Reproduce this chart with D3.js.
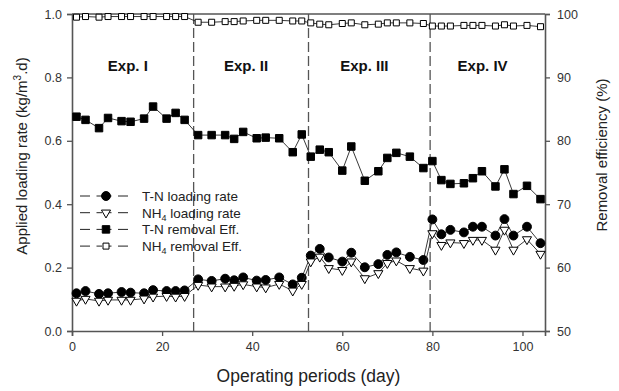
<!DOCTYPE html>
<html>
<head>
<meta charset="utf-8">
<script src="https://cdn.jsdelivr.net/npm/d3@7"></script>
<style>
body { margin: 0; background: #fff; }
text { font-family: "Liberation Sans", Arial, sans-serif; }
</style>
</head>
<body>
<div id="chart"></div>
<script>
// sampling days (same for every series)
var days = [1, 3, 6, 8, 11, 13, 16, 18, 21, 23, 25,
    28, 31, 34, 36, 38, 41, 43, 46, 49, 51,
    53, 55, 57, 60, 62, 65, 68, 70, 72, 75, 78,
    80, 82, 84, 87, 89, 91, 94, 96, 98, 101, 104];

// loading rates (kg/m3.d), left axis
var tnLoading = [0.119, 0.126, 0.117, 0.119, 0.123, 0.121, 0.119, 0.129, 0.126, 0.126, 0.128,
    0.163, 0.158, 0.165, 0.160, 0.169, 0.159, 0.161, 0.169, 0.147, 0.168,
    0.238, 0.259, 0.232, 0.219, 0.247, 0.201, 0.211, 0.240, 0.248, 0.234, 0.224,
    0.352, 0.305, 0.319, 0.311, 0.329, 0.329, 0.301, 0.353, 0.301, 0.329, 0.277];
var nh4Loading = [0.095, 0.101, 0.095, 0.098, 0.098, 0.098, 0.102, 0.108, 0.110, 0.108, 0.110,
    0.145, 0.140, 0.140, 0.142, 0.147, 0.140, 0.137, 0.148, 0.127, 0.148,
    0.219, 0.234, 0.198, 0.192, 0.219, 0.166, 0.182, 0.214, 0.222, 0.198, 0.190,
    0.308, 0.271, 0.279, 0.277, 0.287, 0.287, 0.256, 0.319, 0.256, 0.289, 0.243];

// removal efficiencies (%), right axis
var tnRemoval = [83.8, 83.3, 82.0, 83.6, 83.1, 83.0, 83.5, 85.4, 83.5, 84.4, 83.3,
    80.9, 80.9, 80.9, 80.3, 81.4, 80.4, 80.5, 80.4, 78.2, 81.0,
    77.5, 78.6, 78.2, 75.3, 79.1, 73.7, 75.2, 77.3, 78.1, 77.5, 75.7,
    76.8, 73.8, 73.2, 73.3, 74.1, 75.2, 72.8, 75.5, 71.6, 72.9, 70.8];
var nh4Removal = [99.5, 99.6, 99.5, 99.6, 99.6, 99.6, 99.6, 99.6, 99.6, 99.6, 99.6,
    98.7, 98.7, 98.8, 98.8, 98.9, 99.0, 99.0, 99.0, 98.9, 98.9,
    98.6, 98.4, 98.3, 98.5, 98.6, 98.3, 98.4, 98.6, 98.6, 98.6, 98.5,
    98.1, 98.1, 98.1, 98.2, 98.2, 98.2, 98.1, 98.3, 98.1, 98.2, 98.0];

// experiment phases
var phaseBounds = [27, 52.5, 79.5];
var phaseLabels = ['Exp. I', 'Exp. II', 'Exp. III', 'Exp. IV'];

var xTicks = [0, 20, 40, 60, 80, 100];
var leftTicks = [0, 0.2, 0.4, 0.6, 0.8, 1.0];
var rightTicks = [50, 60, 70, 80, 90, 100];

var width = 619, height = 391;
var margin = {top: 14, right: 74, bottom: 60, left: 72};

var svg = d3.select('#chart')
    .append('svg')
    .attr('width', width)
    .attr('height', height);

var x = d3.scaleLinear().domain([0, 105]).range([margin.left, width - margin.right]);
var yLeft = d3.scaleLinear().domain([0, 1]).range([height - margin.bottom, margin.top]);
var yRight = d3.scaleLinear().domain([50, 100]).range([height - margin.bottom, margin.top]);

var axisColor = '#555';

//Phase separators
svg.selectAll('.phase')
    .data(phaseBounds)
    .enter()
    .append('line')
    .attr('x1', function(d){ return x(d); })
    .attr('x2', function(d){ return x(d); })
    .attr('y1', yLeft(1))
    .attr('y2', yLeft(0))
    .style('stroke', '#555')
    .style('stroke-width', 1.3)
    .style('stroke-dasharray', '10,4');

//Phase labels
var phaseEdges = [0].concat(phaseBounds).concat([105]);
svg.selectAll('.phaseLabel')
    .data(phaseLabels)
    .enter()
    .append('text')
    .attr('x', function(d, i){ return (x(phaseEdges[i]) + x(phaseEdges[i + 1])) / 2 - 5; })
    .attr('y', 71)
    .attr('text-anchor', 'middle')
    .style('font-size', '15px')
    .style('font-weight', 'bold')
    .style('fill', '#111')
    .text(function(d){ return d; });

//Axes
var xAxis = svg.append('g')
    .attr('transform', 'translate(0,' + (height - margin.bottom) + ')')
    .call(d3.axisBottom(x).tickValues(xTicks).tickSize(5).tickPadding(6));
var leftAxis = svg.append('g')
    .attr('transform', 'translate(' + margin.left + ',0)')
    .call(d3.axisLeft(yLeft).tickValues(leftTicks).tickFormat(d3.format('.1f')).tickSize(5).tickPadding(5));
var rightAxis = svg.append('g')
    .attr('transform', 'translate(' + (width - margin.right) + ',0)')
    .call(d3.axisRight(yRight).tickValues(rightTicks).tickSize(5).tickPadding(7));

[xAxis, leftAxis, rightAxis].forEach(function(g){
    g.select('.domain').style('stroke', axisColor).style('stroke-width', 1.6);
    g.selectAll('.tick line').style('stroke', axisColor).style('stroke-width', 1.3);
    g.selectAll('.tick text')
        .style('font-size', '12.5px')
        .style('fill', '#333')
        .style('font-family', '"Liberation Sans", Arial, sans-serif');
});

//Top frame line
svg.append('line')
    .attr('x1', x(0)).attr('x2', x(105))
    .attr('y1', yLeft(1)).attr('y2', yLeft(1))
    .style('stroke', axisColor)
    .style('stroke-width', 1.6);

//Axis titles
svg.append('text')
    .attr('x', (x(0) + x(105)) / 2)
    .attr('y', 382)
    .attr('text-anchor', 'middle')
    .style('font-size', '17.5px')
    .style('fill', '#222')
    .text('Operating periods (day)');

var leftTitle = svg.append('text')
    .attr('transform', 'translate(27,156) rotate(-90)')
    .attr('text-anchor', 'middle')
    .style('font-size', '15px')
    .style('fill', '#222');
leftTitle.append('tspan').text('Applied loading rate (kg/m');
leftTitle.append('tspan').attr('dy', -6).style('font-size', '10px').text('3');
leftTitle.append('tspan').attr('dy', 6).text('.d)');

svg.append('text')
    .attr('transform', 'translate(607,155) rotate(-90)')
    .attr('text-anchor', 'middle')
    .style('font-size', '15px')
    .style('fill', '#222')
    .text('Removal efficiency (%)');

//Series definitions
var series = [
    {name: 'T-N loading rate', values: tnLoading, y: yLeft, symbol: d3.symbolCircle, size: 62, fill: '#000'},
    {name: 'NH4 loading rate', values: nh4Loading, y: yLeft, symbol: d3.symbolTriangle, size: 36, fill: '#fff', flip: true},
    {name: 'T-N removal Eff.', values: tnRemoval, y: yRight, symbol: d3.symbolSquare, size: 56, fill: '#000'},
    {name: 'NH4 removal Eff.', values: nh4Removal, y: yRight, symbol: d3.symbolSquare, size: 36, fill: '#fff'}
];

function drawMarker(sel, s){
    sel.attr('d', d3.symbol().type(s.symbol).size(s.size))
        .style('fill', s.fill)
        .style('stroke', '#000')
        .style('stroke-width', 1);
}

series.forEach(function(s){
    var line = d3.line()
        .x(function(d, i){ return x(days[i]); })
        .y(function(d){ return s.y(d); });

    svg.append('path')
        .datum(s.values)
        .attr('d', line)
        .style('fill', 'none')
        .style('stroke', '#222')
        .style('stroke-width', 0.9);

    svg.selectAll(null)
        .data(s.values)
        .enter()
        .append('path')
        .attr('transform', function(d, i){
            return 'translate(' + x(days[i]) + ',' + s.y(d) + ')' + (s.flip ? ' rotate(180)' : '');
        })
        .call(drawMarker, s);
});

//Legend
var legend = svg.append('g').attr('transform', 'translate(80,196)');
var rows = legend.selectAll('.row')
    .data(series)
    .enter()
    .append('g')
    .attr('transform', function(d, i){ return 'translate(0,' + (i * 16.7) + ')'; });

rows.append('line')
    .attr('x1', 0).attr('x2', 22)
    .style('stroke', '#222').style('stroke-width', 1)
    .style('stroke-dasharray', '10,6.5,5.5');
rows.append('line')
    .attr('x1', 48).attr('x2', 26)
    .style('stroke', '#222').style('stroke-width', 1)
    .style('stroke-dasharray', '10,6.5,5.5');
rows.append('path')
    .attr('transform', function(d){ return 'translate(26,0)' + (d.flip ? ' rotate(180)' : ''); })
    .each(function(d){ d3.select(this).call(drawMarker, d); });

var labels = rows.append('text')
    .attr('x', 62)
    .attr('y', 5)
    .style('font-size', '13.5px')
    .style('fill', '#222');
labels.each(function(d){
    var t = d3.select(this);
    if (d.name.indexOf('NH4') === 0) {
        t.append('tspan').text('NH');
        t.append('tspan').attr('dy', 3).style('font-size', '9px').text('4');
        t.append('tspan').attr('dy', -3).text(d.name.slice(3));
    } else {
        t.text(d.name);
    }
});
</script>
</body>
</html>
